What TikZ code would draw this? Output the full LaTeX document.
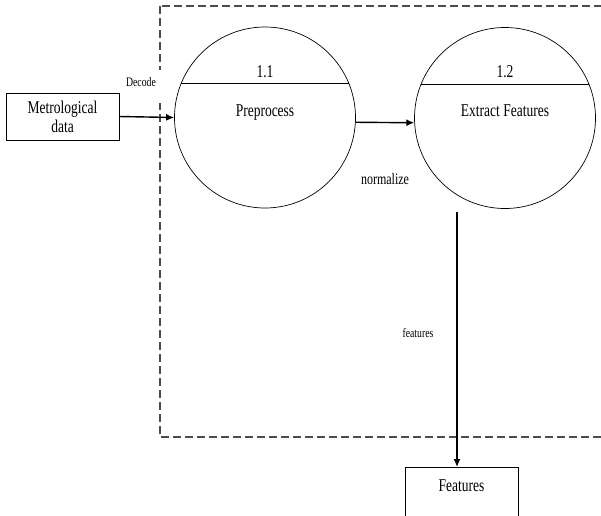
\documentclass[tikz,border=0pt]{standalone}
\usepackage{fontspec}
\setmainfont[FakeStretch=0.75]{Liberation Serif}
\usetikzlibrary{arrows.meta}

\begin{document}
\begin{tikzpicture}[x=1pt,y=-1pt,line width=0.7pt,
        every node/.style={align=center,inner sep=0pt,font=\fontsize{18}{18}\selectfont},
        proc/.style={draw,circle,minimum size=181pt},
        store/.style={draw,rectangle,minimum width=113pt},
        small/.style={font=\fontsize{13}{13}\selectfont},
        flow/.style={-{Latex[length=8pt,width=7pt]},line width=1.4pt}]
    \useasboundingbox (0,0) rectangle (601,515);
    \clip (0,0) rectangle (601,515);
    \draw[gray!60!black,line width=1.3pt,dash pattern=on 8pt off 4pt] (160,6) rectangle (640,437);
    \node[store,minimum height=47pt] (data) at (62.5,116.5) {Metrological\\[1pt]data};
    \node[proc] (pre) at (265,117.5) {};
    \node[proc] (ext) at (505,118) {};
    \draw (pre.158) -- (pre.22);
    \draw (ext.158) -- (ext.22);
    \node[anchor=base] (n11) at (265,77) {1.1};
    \node[anchor=base] (n12) at (505,77) {1.2};
    \node[anchor=base] (prel) at (265,116) {Preprocess};
    \node[anchor=base] (extl) at (505,116) {Extract Features};
    \node[small,fill=white,anchor=base,minimum width=43pt,text height=16pt,text depth=17pt] (dec) at (141,86) {Decode};
    \node[store,anchor=north,text height=24pt,text depth=30pt] (feat) at (461.5,467) {Features};
    \coordinate (fout) at (457,212);
    \draw[flow] (data.east) -- (pre.west);
    \draw[flow] (pre.-3) -- (ext.183);
    \draw[flow] (fout) -- (fout |- feat.north);
    \node[font=\fontsize{16}{16}\selectfont,anchor=base] (norm) at (385,184) {normalize};
    \node[small,anchor=base] (featl) at (418,337) {features};
\end{tikzpicture}
\end{document}
